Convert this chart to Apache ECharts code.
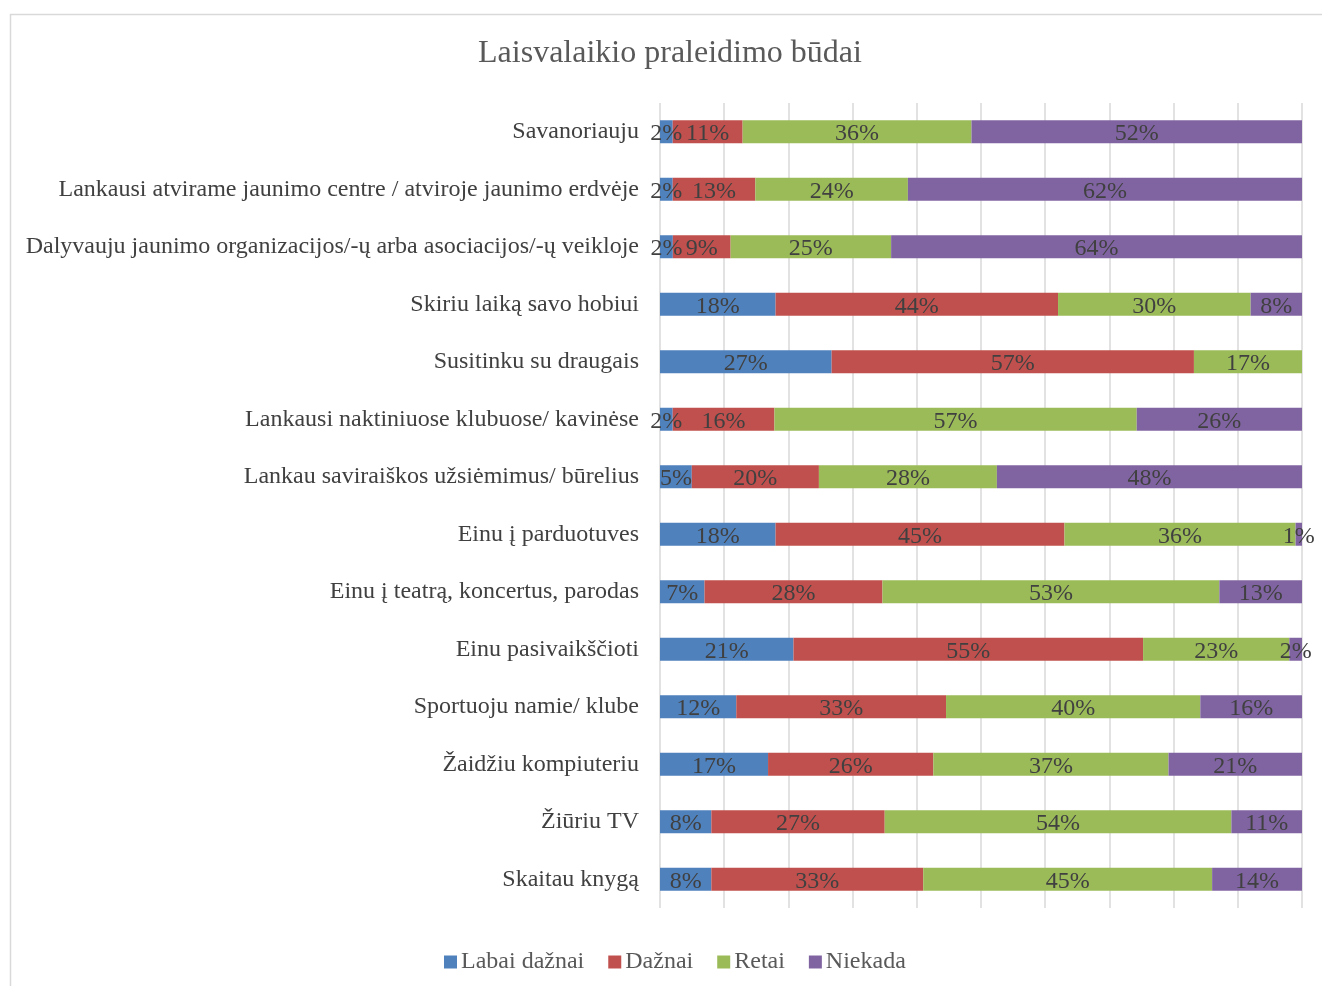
<!DOCTYPE html>
<html>
<head>
<meta charset="utf-8">
<script src="https://cdn.jsdelivr.net/npm/echarts@6/dist/echarts.min.js"></script>
<style>html,body{margin:0;padding:0;background:#fff}#c{width:1322px;height:986px}</style>
</head>
<body>
<div id="c"></div>
<script>
var categories = [
  "Savanoriauju",
  "Lankausi atvirame jaunimo centre / atviroje jaunimo erdvėje",
  "Dalyvauju jaunimo organizacijos/-ų arba asociacijos/-ų veikloje",
  "Skiriu laiką savo hobiui",
  "Susitinku su draugais",
  "Lankausi naktiniuose klubuose/ kavinėse",
  "Lankau saviraiškos užsiėmimus/ būrelius",
  "Einu į parduotuves",
  "Einu į teatrą, koncertus, parodas",
  "Einu pasivaikščioti",
  "Sportuoju namie/ klube",
  "Žaidžiu kompiuteriu",
  "Žiūriu TV",
  "Skaitau knygą"
];
var labaiDaznai = [2, 2, 2, 18, 27, 2, 5, 18, 7, 21, 12, 17, 8, 8];
var daznai      = [11, 13, 9, 44, 57, 16, 20, 45, 28, 55, 33, 26, 27, 33];
var retai       = [36, 24, 25, 30, 17, 57, 28, 36, 53, 23, 40, 37, 54, 45];
var niekada     = [52, 62, 64, 8, 0, 26, 48, 1, 13, 2, 16, 21, 11, 14];
var seriesNames = ["Labai dažnai", "Dažnai", "Retai", "Niekada"];
var colors = ["#4f81bd", "#c0504d", "#9bbb59", "#8064a2"];

var all = [labaiDaznai, daznai, retai, niekada];
var sums = categories.map(function(_, i){ return all.reduce(function(s, a){ return s + a[i]; }, 0); });

var font = "'Liberation Serif', 'Times New Roman', serif";
var chart = echarts.init(document.getElementById('c'));
chart.setOption({
  animation: false,
  textStyle: { fontFamily: font },
  graphic: [{
    type: 'rect', left: 8, top: 12, silent: true,
    shape: { width: 1340, height: 1000 },
    style: { fill: 'none', stroke: '#d9d9d9', lineWidth: 1.5 }
  }],
  title: {
    text: 'Laisvalaikio praleidimo būdai',
    left: 665, top: 33, textAlign: 'center',
    textStyle: { fontFamily: font, fontSize: 32, fontWeight: 'normal', color: '#595959' }
  },
  legend: {
    data: seriesNames,
    left: 439, top: 945,
    icon: 'rect', itemWidth: 13, itemHeight: 13, itemGap: 24,
    textStyle: { fontFamily: font, fontSize: 24, color: '#595959', padding: [0, 0, 0, -1] }
  },
  grid: { left: 660, right: 20, top: 103, bottom: 78, containLabel: false },
  xAxis: {
    type: 'value', min: 0, max: 100, interval: 10,
    axisLabel: { show: false }, axisLine: { show: false }, axisTick: { show: false },
    splitLine: { lineStyle: { color: '#d9d9d9', width: 1.5 } }
  },
  yAxis: {
    type: 'category', data: categories, inverse: true,
    axisLine: { show: false }, axisTick: { show: false },
    axisLabel: { fontFamily: font, fontSize: 24, color: '#404040', margin: 21 }
  },
  series: all.map(function(arr, k){
    return {
      name: seriesNames[k], type: 'bar', stack: 'total',
      barCategoryGap: '60%',
      itemStyle: { color: colors[k] },
      label: {
        show: true, position: 'inside', fontFamily: font, fontSize: 24, color: '#404040',
        offset: [0, 2],
        formatter: function(p){ return arr[p.dataIndex] + '%'; }
      },
      data: arr.map(function(v, i){ return v === 0 ? null : v / sums[i] * 100; })
    };
  })
});
</script>
</body>
</html>
